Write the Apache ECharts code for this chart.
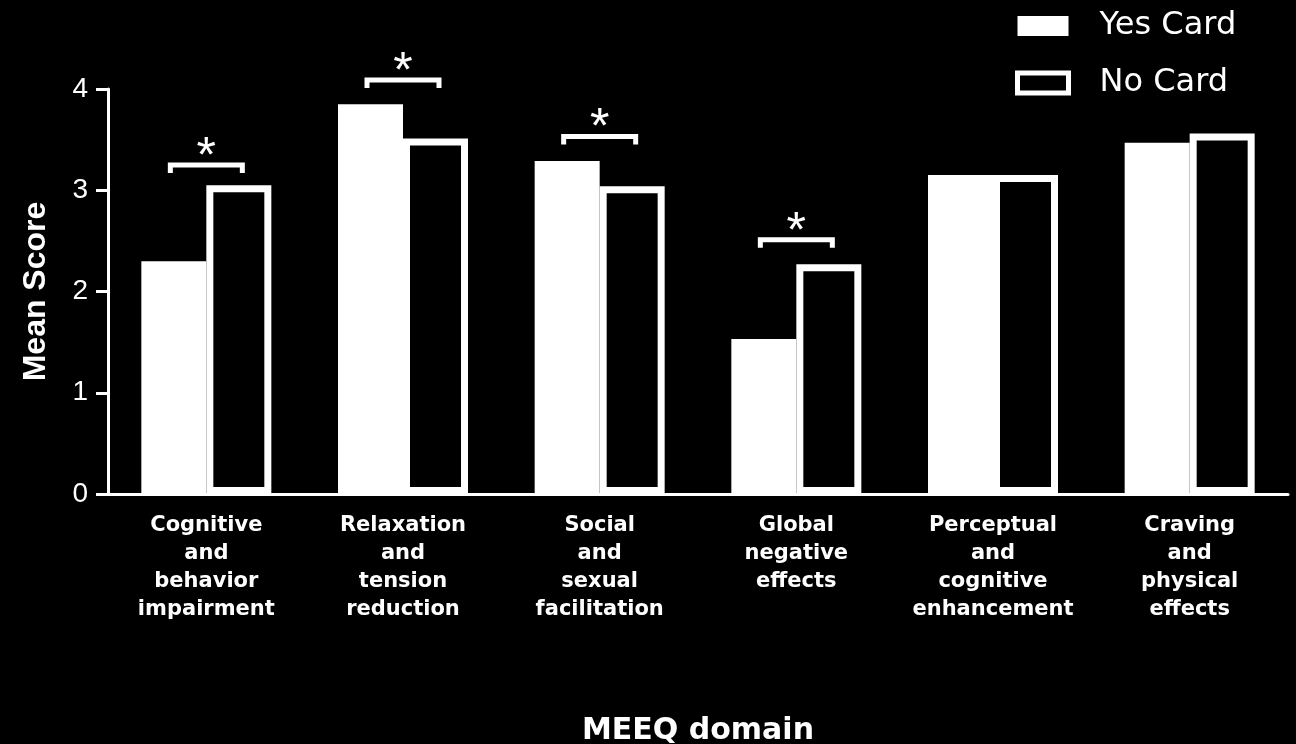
<!DOCTYPE html>
<html>
<head>
<meta charset="utf-8">
<script src="https://cdn.jsdelivr.net/npm/echarts@6/dist/echarts.min.js"></script>
<style>
  html, body { margin: 0; padding: 0; background: #000; }
  #chart { width: 1296px; height: 744px; }
</style>
</head>
<body>
<div id="chart"></div>
<script>
// domains on the x axis
var categories = [
  'Cognitive\nand\nbehavior\nimpairment',
  'Relaxation\nand\ntension\nreduction',
  'Social\nand\nsexual\nfacilitation',
  'Global\nnegative\neffects',
  'Perceptual\nand\ncognitive\nenhancement',
  'Craving\nand\nphysical\neffects'
];
var yesCard = [2.30, 3.85, 3.29, 1.53, 3.15, 3.47];
var noCard = [3.05, 3.51, 3.04, 2.27, 3.15, 3.56];
// significance brackets: [category index, bracket height]
var sigMarks = [[0, 3.25], [1, 4.09], [2, 3.53], [3, 2.51]];
var yTicks = [0, 1, 2, 3, 4];

var chart = echarts.init(document.getElementById('chart'));

chart.setOption({
  backgroundColor: '#000',
  animation: false,
  textStyle: { fontFamily: 'Liberation Sans, Arial, sans-serif' },
  grid: { left: 108, right: 8, top: 89, bottom: 250, containLabel: false, outerBoundsMode: 'none' },
  legend: {
    orient: 'vertical',
    left: 1015,
    top: 10,
    icon: 'rect',
    itemWidth: 51,
    itemHeight: 20,
    itemGap: 25,
    padding: 0,
    textStyle: { color: '#fff', fontSize: 32, fontFamily: 'DejaVu Sans', padding: [0, 0, 0, 26] },
    data: [
      { name: 'Yes Card' },
      { name: 'No Card', itemStyle: { borderWidth: 5 } }
    ]
  },
  xAxis: {
    type: 'category',
    data: categories,
    name: 'MEEQ domain',
    nameLocation: 'middle',
    nameGap: 222,
    nameTextStyle: { color: '#fff', fontSize: 30, fontWeight: 'bold', fontFamily: 'DejaVu Sans' },
    axisLine: { lineStyle: { color: '#fff', width: 3 } },
    axisTick: { alignWithLabel: true, length: 10, lineStyle: { color: '#fff', width: 3 } },
    axisLabel: {
      color: '#fff',
      fontSize: 21,
      fontWeight: 'bold',
      lineHeight: 28,
      margin: 18,
      fontFamily: 'DejaVu Sans',
      interval: 0
    }
  },
  yAxis: {
    type: 'value',
    min: 0,
    max: 4,
    interval: 1,
    name: 'Mean Score',
    nameLocation: 'middle',
    nameGap: 56,
    nameTextStyle: { color: '#fff', fontSize: 32, fontWeight: 'bold' },
    axisLine: { show: true, lineStyle: { color: '#fff', width: 3 } },
    axisTick: { show: true, length: 12, lineStyle: { color: '#fff', width: 3 } },
    axisLabel: {
      color: '#fff',
      fontSize: 28,
      margin: 20,
      formatter: function (v) { return yTicks.indexOf(v) >= 0 ? String(v) : ''; }
    },
    splitLine: { show: false }
  },
  series: [
    {
      name: 'Yes Card',
      type: 'bar',
      data: yesCard,
      barWidth: 65,
      barGap: '0%',
      itemStyle: { color: '#fff' }
    },
    {
      name: 'No Card',
      type: 'bar',
      data: noCard,
      barWidth: 65,
      itemStyle: { color: '#000', borderColor: '#fff', borderWidth: 7 }
    },
    {
      name: 'sig',
      type: 'custom',
      clip: false,
      silent: true,
      data: sigMarks,
      renderItem: function (params, api) {
        var p = api.coord([api.value(0), api.value(1)]);
        var half = 36;
        return {
          type: 'group',
          children: [
            {
              type: 'polyline',
              shape: { points: [[p[0] - half, p[1] + 8], [p[0] - half, p[1]], [p[0] + half, p[1]], [p[0] + half, p[1] + 8]] },
              style: { stroke: '#fff', lineWidth: 5, fill: null }
            },
            {
              type: 'text',
              x: p[0],
              y: p[1] + 18,
              style: {
                text: '*',
                fill: '#fff',
                fontSize: 50,
                fontFamily: 'Liberation Sans',
                align: 'center',
                verticalAlign: 'bottom'
              }
            }
          ]
        };
      }
    }
  ]
});
</script>
</body>
</html>
